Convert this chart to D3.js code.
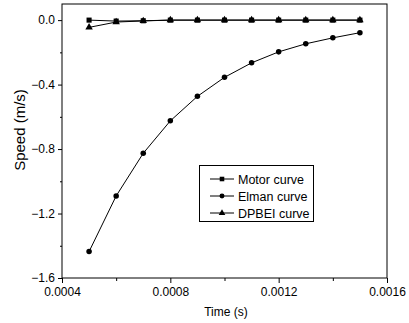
<!DOCTYPE html>
<html>
<head>
<meta charset="utf-8">
<script src="https://cdn.jsdelivr.net/npm/d3@7"></script>
<style>
  html, body { margin: 0; padding: 0; background: #fff; }
  svg { display: block; font-family: "Liberation Sans", Arial, sans-serif; }
</style>
</head>
<body>
<svg id="chart" width="409" height="323"></svg>
<script>
// Time samples (s)
const time = [0.0005, 0.0006, 0.0007, 0.0008, 0.0009, 0.0010, 0.0011, 0.0012, 0.0013, 0.0014, 0.0015];
// Speed (m/s) for each curve
const motor = [0.000, -0.006, -0.004, 0.000, 0.000, 0.000, 0.000, 0.000, 0.000, 0.000, 0.000];
const elman = [-1.436, -1.091, -0.826, -0.625, -0.473, -0.355, -0.265, -0.197, -0.147, -0.110, -0.078];
const dpbei = [-0.045, -0.012, -0.005, 0.000, 0.000, 0.000, 0.000, 0.000, 0.000, 0.000, 0.000];
const seriesNames = ["Motor curve", "Elman curve", "DPBEI curve"];
const xTicks = [0.0004, 0.0008, 0.0012, 0.0016];
const xMinor = [0.0006, 0.0010, 0.0014];
const yTicks = [0.0, -0.4, -0.8, -1.2, -1.6];
const yMinor = [-0.2, -0.6, -1.0, -1.4];

const series = [
  { name: seriesNames[0], values: motor, symbol: d3.symbolSquare, size: 26 },
  { name: seriesNames[1], values: elman, symbol: d3.symbolCircle, size: 24 },
  { name: seriesNames[2], values: dpbei, symbol: d3.symbolTriangle, size: 24 }
];

const svg = d3.select("#chart");
const margin = { left: 62, top: 4, right: 22, bottom: 45 };
const W = 409, H = 323;
const x = d3.scaleLinear().domain([0.0004, 0.0016]).range([margin.left, W - margin.right]);
const y = d3.scaleLinear().domain([-1.6, 0.1]).range([H - margin.bottom, margin.top]);

// frame
svg.append("rect")
  .attr("x", x.range()[0]).attr("y", y.range()[1])
  .attr("width", x.range()[1] - x.range()[0])
  .attr("height", y.range()[0] - y.range()[1])
  .attr("fill", "none").attr("stroke", "#000").attr("stroke-width", 1);

// x axis
svg.append("g").attr("transform", `translate(0,${y.range()[0]})`)
  .call(d3.axisBottom(x).tickValues(xTicks).tickFormat(d3.format(".4f")).tickSize(5).tickPadding(4));
svg.append("g").attr("transform", `translate(0,${y.range()[0]})`)
  .call(d3.axisBottom(x).tickValues(xMinor).tickFormat("").tickSize(3));

// y axis
svg.append("g").attr("transform", `translate(${x.range()[0]},0)`)
  .call(d3.axisLeft(y).tickValues(yTicks).tickFormat(d3.format(".1f")).tickSize(4).tickPadding(3));
svg.append("g").attr("transform", `translate(${x.range()[0]},0)`)
  .call(d3.axisLeft(y).tickValues(yMinor).tickFormat("").tickSize(2));

svg.selectAll(".domain").remove();
svg.selectAll(".tick line").attr("stroke", "#000");
svg.selectAll(".tick text").attr("fill", "#000").style("font-size", "12px")
  .style("font-family", "'Liberation Sans', Arial, sans-serif");

// axis titles
svg.append("text")
  .attr("x", 226).attr("y", 316)
  .attr("text-anchor", "middle").style("font-size", "12px").text("Time (s)");
svg.append("text")
  .attr("transform", "translate(25,130) rotate(-90)")
  .attr("text-anchor", "middle").style("font-size", "15px").text("Speed (m/s)");

// curves
const line = d3.line().x((d, i) => x(time[i])).y(d => y(d));
series.forEach(s => {
  svg.append("path").datum(s.values)
    .attr("d", line).attr("fill", "none").attr("stroke", "#000").attr("stroke-width", 1);
});
series.forEach(s => {
  svg.append("g").selectAll("path").data(s.values).join("path")
    .attr("transform", (d, i) => `translate(${x(time[i])},${y(d)})`)
    .attr("d", d3.symbol().type(s.symbol).size(s.size))
    .attr("fill", "#000");
});

// legend
const lg = svg.append("g");
lg.append("rect").attr("x", 199.5).attr("y", 165.5).attr("width", 114).attr("height", 56)
  .attr("fill", "#fff").attr("stroke", "#000");
series.forEach((s, i) => {
  const cy = 179 + i * 17;
  lg.append("line").attr("x1", 210).attr("x2", 234).attr("y1", cy).attr("y2", cy).attr("stroke", "#000");
  lg.append("path").attr("transform", `translate(222,${cy})`)
    .attr("d", d3.symbol().type(s.symbol).size(s.size * 0.8)).attr("fill", "#000");
  lg.append("text").attr("x", 238).attr("y", cy + 4.5).style("font-size", "12.5px").text(s.name);
});
</script>
</body>
</html>
